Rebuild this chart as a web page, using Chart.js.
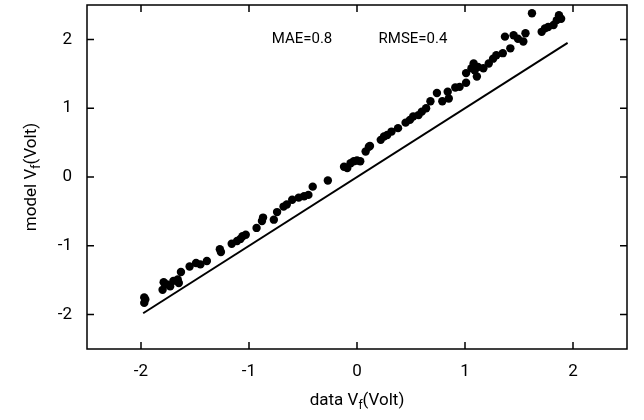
<!DOCTYPE html>
<html>
<head>
<meta charset="utf-8">
<script src="https://cdn.jsdelivr.net/npm/chart.js@4.4.1/dist/chart.umd.min.js"></script>
<style>
    html, body { margin: 0; padding: 0; background: #fff; }
    #wrap { width: 644px; height: 420px; }
</style>
</head>
<body>
<div id="wrap"><canvas id="chart"></canvas></div>
<script>
// measured points: data Vf (x) vs model Vf (y)
const dataVf = [
    -1.97, -1.96, -1.97, -1.80, -1.79, -1.76, -1.73, -1.70, -1.66, -1.65,
    -1.63, -1.55, -1.49, -1.45, -1.39, -1.26, -1.27, -1.16, -1.11, -1.08,
    -1.06, -1.03, -0.93, -0.87, -0.88, -0.77, -0.74, -0.68, -0.65, -0.60,
    -0.54, -0.49, -0.45, -0.41, -0.27, -0.12, -0.09, -0.06, -0.03, 0.00,
    0.03, 0.08, 0.11, 0.12, 0.22, 0.25, 0.28, 0.32, 0.38, 0.45,
    0.49, 0.52, 0.57, 0.60, 0.64, 0.68, 0.74, 0.79, 0.84, 0.85,
    0.91, 0.95, 1.01, 1.01, 1.06, 1.09, 1.11, 1.08, 1.12, 1.17,
    1.22, 1.26, 1.29, 1.35, 1.37, 1.42, 1.45, 1.49, 1.54, 1.56,
    1.62, 1.71, 1.74, 1.77, 1.82, 1.85, 1.87, 1.89
];
const modelVf = [
    -1.75, -1.78, -1.83, -1.64, -1.53, -1.56, -1.59, -1.51, -1.49, -1.54,
    -1.38, -1.30, -1.25, -1.27, -1.22, -1.09, -1.05, -0.97, -0.93, -0.90,
    -0.86, -0.84, -0.74, -0.59, -0.64, -0.62, -0.51, -0.43, -0.40, -0.33,
    -0.30, -0.28, -0.26, -0.14, -0.05, 0.15, 0.13, 0.20, 0.23, 0.24,
    0.23, 0.37, 0.44, 0.45, 0.54, 0.59, 0.61, 0.66, 0.71, 0.79,
    0.83, 0.88, 0.90, 0.95, 1.00, 1.10, 1.22, 1.10, 1.24, 1.14,
    1.30, 1.31, 1.37, 1.51, 1.58, 1.55, 1.46, 1.65, 1.60, 1.58,
    1.65, 1.72, 1.77, 1.80, 2.04, 1.87, 2.06, 2.01, 1.97, 2.09,
    2.38, 2.11, 2.16, 2.18, 2.21, 2.28, 2.35, 2.30
];
// y = x reference line
const lineX = [-1.98, 1.95];
const lineY = [-1.98, 1.95];
const tickValues = [-2, -1, 0, 1, 2];
const maeText = 'MAE=0.8';
const rmseText = 'RMSE=0.4';

const FONT = 'Roboto, "Liberation Sans", sans-serif';

// frame, inward ticks on all four sides, axis titles, MAE/RMSE text
const decorPlugin = {
    id: 'decor',
    afterDraw(chart) {
        const ctx = chart.ctx;
        const { left, right, top, bottom } = chart.chartArea;
        const xs = chart.scales.x, ys = chart.scales.y;
        ctx.save();
        ctx.strokeStyle = '#000';
        ctx.lineWidth = 1.5;
        ctx.strokeRect(left, top, right - left, bottom - top);
        ctx.beginPath();
        tickValues.forEach(v => {
            const px = xs.getPixelForValue(v);
            ctx.moveTo(px, bottom); ctx.lineTo(px, bottom - 7);
            ctx.moveTo(px, top); ctx.lineTo(px, top + 7);
            const py = ys.getPixelForValue(v);
            ctx.moveTo(left, py); ctx.lineTo(left + 7, py);
            ctx.moveTo(right, py); ctx.lineTo(right - 7, py);
        });
        ctx.stroke();

        ctx.fillStyle = '#000';
        ctx.textBaseline = 'middle';
        ctx.textAlign = 'left';
        ctx.font = '15px ' + FONT;
        ctx.fillText(maeText, xs.getPixelForValue(-0.79), ys.getPixelForValue(2.0));
        ctx.fillText(rmseText, xs.getPixelForValue(0.20), ys.getPixelForValue(2.0));

        drawTitle(ctx, 'data V', 'f', '(Volt)', (left + right) / 2, 401, 0);
        drawTitle(ctx, 'model V', 'f', '(Volt)', 32, (top + bottom) / 2, -Math.PI / 2);
        ctx.restore();
    }
};

function drawTitle(ctx, pre, sub, post, cx, cy, rot) {
    const big = '17px ' + FONT, small = '12px ' + FONT;
    ctx.font = big;
    const w1 = ctx.measureText(pre).width;
    const w3 = ctx.measureText(post).width;
    ctx.font = small;
    const w2 = ctx.measureText(sub).width;
    const total = w1 + w2 + w3;
    ctx.save();
    ctx.translate(cx, cy);
    ctx.rotate(rot);
    ctx.textBaseline = 'middle';
    ctx.textAlign = 'left';
    let x = -total / 2;
    ctx.font = big;
    ctx.fillText(pre, x, 0);
    x += w1;
    ctx.font = small;
    ctx.fillText(sub, x, 5);
    x += w2;
    ctx.font = big;
    ctx.fillText(post, x, 0);
    ctx.restore();
}

const scatterPts = dataVf.map((x, i) => ({ x, y: modelVf[i] }));
const linePts = lineX.map((x, i) => ({ x, y: lineY[i] }));

const axisCommon = {
    type: 'linear',
    min: -2.5,
    max: 2.5,
    grid: { display: false, drawTicks: false },
    border: { display: false },
    afterBuildTicks: scale => { scale.ticks = tickValues.map(v => ({ value: v })); }
};

new Chart(document.getElementById('chart'), {
    type: 'scatter',
    data: {
        datasets: [{
            data: scatterPts,
            backgroundColor: '#000',
            borderColor: '#000',
            pointRadius: 4.2,
            pointBorderWidth: 0
        }, {
            type: 'line',
            data: linePts,
            borderColor: '#000',
            borderWidth: 2,
            pointRadius: 0,
            fill: false
        }]
    },
    options: {
        responsive: true,
        maintainAspectRatio: false,
        animation: false,
        layout: { padding: { left: 0, top: 5, right: 17, bottom: 0 } },
        scales: {
            x: {
                ...axisCommon,
                position: 'bottom',
                ticks: { color: '#000', padding: 13, font: { family: FONT, size: 17 } },
                afterFit: s => {
                    s.height = 71;
                    s.paddingLeft = 0;
                    s.paddingRight = 0;
                }
            },
            y: {
                ...axisCommon,
                position: 'left',
                ticks: { color: '#000', padding: 15, font: { family: FONT, size: 17 } },
                afterFit: s => {
                    s.width = 87;
                    s.paddingTop = 0;
                    s.paddingBottom = 0;
                }
            }
        },
        plugins: {
            legend: { display: false },
            tooltip: { enabled: false }
        }
    },
    plugins: [decorPlugin]
});
</script>
</body>
</html>
